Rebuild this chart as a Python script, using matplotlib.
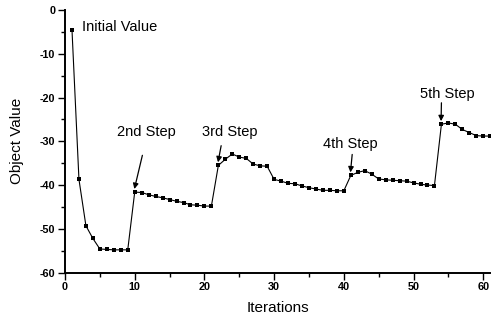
import matplotlib
matplotlib.use('Agg')
import matplotlib.pyplot as plt
from matplotlib.ticker import MultipleLocator

plt.rcParams['font.family'] = ['Liberation Sans', 'DejaVu Sans']

iterations = list(range(1, 62))
object_value = [
    -4.5, -38.7, -49.3, -52.2, -54.6, -54.7, -54.8, -54.8, -54.8,
    -41.6, -41.7, -42.2, -42.6, -42.9, -43.3, -43.7, -44.0, -44.5, -44.6, -44.8, -44.8,
    -35.5, -34.1, -32.9, -33.6, -33.9, -35.2, -35.6, -35.7, -38.7, -39.1, -39.6,
    -39.7, -40.2, -40.6, -40.9, -41.2, -41.2, -41.3, -41.3,
    -37.8, -37.1, -36.7, -37.5, -38.6, -38.8, -38.9, -39.0, -39.1, -39.5, -39.8,
    -40.0, -40.1,
    -26.1, -25.8, -26.1, -27.3, -28.0, -28.7, -28.8, -28.8,
]
x_ticks = [0, 10, 20, 30, 40, 50, 60]
y_ticks = [-60, -50, -40, -30, -20, -10, 0]
step_labels = ['2nd Step', '3rd Step', '4th Step', '5th Step']
step_points = [10, 22, 41, 54]
step_text_pos = [(11.7, -27.8), (23.7, -27.8), (41.0, -30.5), (54.9, -19.1)]
step_arrow_tail = [(11.1, -33.2), (22.4, -31.0), (41.2, -33.0), (54.0, -21.2)]

fig = plt.figure(figsize=(4.91, 3.23), dpi=100)
ax = fig.add_axes([0.1324, 0.156, 0.866, 0.813])

ax.plot(iterations, object_value, color='black', linewidth=0.8,
        marker='s', markersize=2.6, markerfacecolor='black', markeredgewidth=0)

ax.text(2.4, -3.9, 'Initial Value', fontsize=10.5, va='center', ha='left')
for lab, i, (tx, ty), (ax_, ay) in zip(step_labels, step_points, step_text_pos, step_arrow_tail):
    head_y = object_value[i - 1] + 0.7
    ax.text(tx, ty, lab, fontsize=10.5, ha='center', va='center')
    ax.annotate('', xy=(i - 0.05, head_y), xytext=(ax_, ay),
                arrowprops=dict(arrowstyle='-|>', color='black', lw=0.9,
                                mutation_scale=8, shrinkA=0, shrinkB=0))

ax.set_xlim(0, 61)
ax.set_ylim(-60, 0)
ax.set_xticks(x_ticks)
ax.set_xticklabels([str(t) for t in x_ticks], fontweight='bold')
ax.set_yticks(y_ticks)
ax.set_yticklabels([str(t) for t in y_ticks], fontweight='bold')
ax.xaxis.set_minor_locator(MultipleLocator(5))
ax.yaxis.set_minor_locator(MultipleLocator(5))

for side in ['top', 'right']:
    ax.spines[side].set_visible(False)
for side in ['left', 'bottom']:
    ax.spines[side].set_linewidth(1.4)

ax.tick_params(which='major', direction='out', length=5, width=1, pad=2,
               labelsize=7.8)
ax.tick_params(which='minor', direction='out', length=3, width=1)

ax.set_xlabel('Iterations', fontsize=11, labelpad=6)
ax.set_ylabel('Object Value', fontsize=11, labelpad=11)

fig.savefig('out.png', dpi=100)
